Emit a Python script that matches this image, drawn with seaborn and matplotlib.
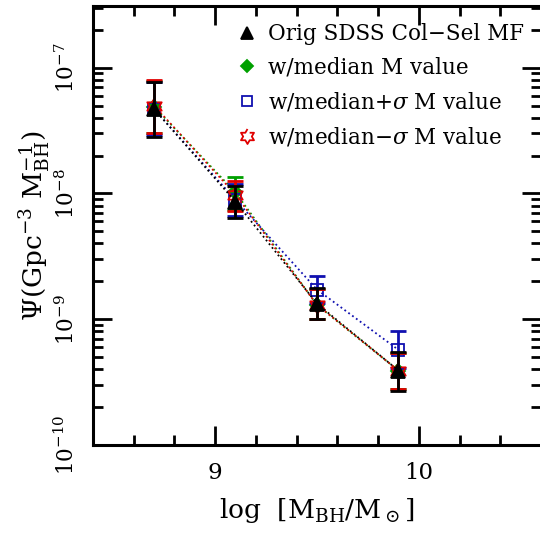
import numpy as np
import pandas as pd
import seaborn as sns
import matplotlib.pyplot as plt
from matplotlib.ticker import MultipleLocator, LogLocator, NullFormatter

# log M_BH bins
log_mbh = [8.7, 9.1, 9.5, 9.9]
y_decades = [1e-10, 1e-9, 1e-8, 1e-7]

# original SDSS colour-selected mass function
orig = [4.7e-8, 8.6e-9, 1.33e-9, 3.9e-10]
orig_lo = [2.8e-8, 6.4e-9, 1.0e-9, 2.7e-10]
orig_hi = [7.7e-8, 1.14e-8, 1.78e-9, 5.5e-10]

# with median M value
med = [4.9e-8, 1.02e-8, 1.3e-9, 3.9e-10]
med_lo = [3.0e-8, 7.4e-9, 1.0e-9, 2.8e-10]
med_hi = [7.9e-8, 1.36e-8, 1.75e-9, 5.4e-10]

# with median + sigma
plus = [4.7e-8, 8.9e-9, 1.72e-9, 5.7e-10]
plus_lo = [2.9e-8, 6.6e-9, 1.35e-9, 4.1e-10]
plus_hi = [7.7e-8, 1.18e-8, 2.2e-9, 8.0e-10]

# with median - sigma
minus = [5.0e-8, 9.8e-9, 1.3e-9, 3.9e-10]
minus_lo = [3.0e-8, 7.3e-9, 1.0e-9, 2.8e-10]
minus_hi = [8.0e-8, 1.25e-8, 1.75e-9, 5.4e-10]

labels = ["Orig SDSS Col\u2212Sel MF", "w/median M value",
          r"w/median+$\sigma$ M value", r"w/median$-\sigma$ M value"]

sns.set_style("ticks", {"axes.edgecolor": "black", "xtick.color": "black",
                        "ytick.color": "black", "text.color": "black",
                        "axes.labelcolor": "black"})
plt.rcParams['font.family'] = ['DejaVu Serif']
plt.rcParams['mathtext.fontset'] = 'dejavuserif'

# six pointed star outline
ang = np.pi / 2 + np.arange(12) * np.pi / 6
rad = np.where(np.arange(12) % 2 == 0, 1.0, 1 / np.sqrt(3))
hexagram = list(zip(rad * np.cos(ang), rad * np.sin(ang)))

series = [
    (med, med_lo, med_hi, '#00a000', 'D', '#00a000', 7, labels[1]),
    (plus, plus_lo, plus_hi, '#1010b0', 's', 'none', 8, labels[2]),
    (minus, minus_lo, minus_hi, '#e00000', hexagram, 'none', 12, labels[3]),
    (orig, orig_lo, orig_hi, 'black', '^', 'black', 10, labels[0]),
]

fig = plt.figure(figsize=(5.4, 5.38), dpi=100)
ax = fig.add_axes([0.172, 0.173, 0.83, 0.816])

handles = {}
for y, lo, hi, col, mk, fc, ms, lab in series:
    df = pd.DataFrame({'x': log_mbh, 'y': y})
    sns.lineplot(data=df, x='x', y='y', ax=ax, color=col, linestyle=':',
                 linewidth=1.3, legend=False)
    yerr = [np.array(y) - np.array(lo), np.array(hi) - np.array(y)]
    ax.errorbar(log_mbh, y, yerr=yerr, fmt='none', ecolor=col,
                elinewidth=2, capsize=6, capthick=2)
    h, = ax.plot(log_mbh, y, linestyle='none', marker=mk, color=col,
                 markerfacecolor=fc, markeredgecolor=col, markersize=ms,
                 markeredgewidth=1.3)
    handles[lab] = h

ax.set_yscale('log')
ax.set_xlim(8.4, 10.6)
ax.set_ylim(1e-10, 3.1e-7)
ax.xaxis.set_major_locator(MultipleLocator(1))
ax.xaxis.set_minor_locator(MultipleLocator(0.2))
ax.set_yticks(y_decades)
ax.yaxis.set_minor_locator(LogLocator(base=10, subs=np.arange(2, 10)))
ax.yaxis.set_minor_formatter(NullFormatter())

ax.tick_params(which='both', direction='in', top=True, right=True, width=2)
ax.tick_params(which='major', length=14, labelsize=16.5, pad=12)
ax.tick_params(axis='y', which='major', labelsize=15.5, pad=10)
ax.tick_params(which='minor', length=7)
ax.tick_params(axis='y', labelrotation=90)
for t in ax.get_yticklabels():
    t.set_va('center')
for s in ax.spines.values():
    s.set_linewidth(2.2)

ax.set_xlabel(r"log  [M$_{\rm BH}$/M$_\odot$]", fontsize=19, labelpad=9)
ax.set_ylabel(r"$\Psi$(Gpc$^{-3}$ M$_{\rm BH}^{-1}$)", fontsize=19, labelpad=2)

ax.legend([handles[l] for l in labels], labels, loc='upper right',
          frameon=False, fontsize=15.5, handlelength=0.7, handletextpad=0.6,
          labelspacing=0.55, borderaxespad=0.4, markerscale=0.9)

fig.savefig('out.png', dpi=100)
